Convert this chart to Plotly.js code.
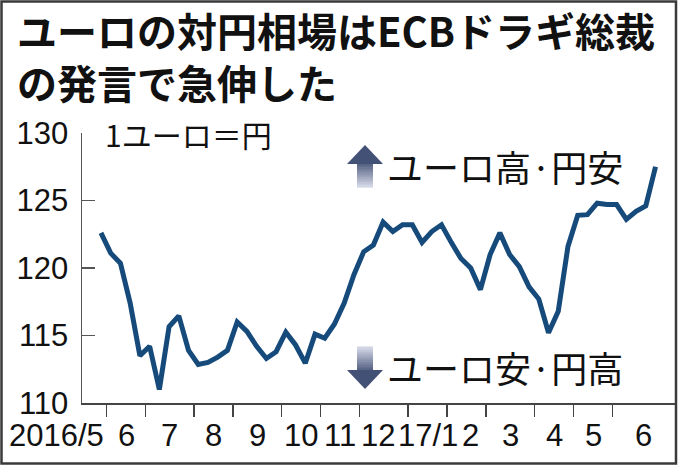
<!DOCTYPE html>
<html><head><meta charset="utf-8">
<script src="https://cdn.plot.ly/plotly-3.0.1.min.js"></script>
<style>html,body{margin:0;padding:0;background:#fff}#chart{width:680px;height:466px}</style>
</head><body><div id="chart"></div>
<script>
// Weekly (Friday) observations
const weeks = [
 '2016-05-27','2016-06-03','2016-06-10','2016-06-17','2016-06-24',
 '2016-07-01','2016-07-08','2016-07-15','2016-07-22','2016-07-29',
 '2016-08-05','2016-08-12','2016-08-19','2016-08-26',
 '2016-09-02','2016-09-09','2016-09-16','2016-09-23','2016-09-30',
 '2016-10-07','2016-10-14','2016-10-21','2016-10-28',
 '2016-11-04','2016-11-11','2016-11-18','2016-11-25',
 '2016-12-02','2016-12-09','2016-12-16','2016-12-23','2016-12-30',
 '2017-01-06','2017-01-13','2017-01-20','2017-01-27',
 '2017-02-03','2017-02-10','2017-02-17','2017-02-24',
 '2017-03-03','2017-03-10','2017-03-17','2017-03-24','2017-03-31',
 '2017-04-07','2017-04-14','2017-04-21','2017-04-28',
 '2017-05-05','2017-05-12','2017-05-19','2017-05-26',
 '2017-06-02','2017-06-09','2017-06-16','2017-06-23','2017-06-30'
];
// EUR/JPY (yen per euro)
const rates = [
 122.6, 121.1, 120.35, 117.4, 113.5,
 114.2, 111.0, 115.65, 116.45, 113.9,
 112.85, 113.0, 113.4, 113.9,
 116.0, 115.3, 114.2, 113.3, 113.8,
 115.25, 114.3, 112.95, 115.1,
 114.8, 115.85, 117.4, 119.5,
 121.2, 121.7, 123.4, 122.7, 123.2,
 123.2, 121.9, 122.7, 123.2,
 121.9, 120.7, 120.0, 118.4,
 121.0, 122.6, 121.0, 120.1, 118.6,
 117.7, 115.2, 116.8, 121.6,
 123.9, 123.95, 124.8, 124.7,
 124.7, 123.6, 124.2, 124.6, 127.5
];
const monthLabels = ['2016/5','6','7','8','9','10','11','12','17/1','2','3','4','5','6'];
const yTicks = [110, 115, 120, 125, 130];
const titleText = 'ユーロの対円相場はECBドラギ総裁<br>の発言で急伸した';
const unitLabel = '1ユーロ＝円';
const upLabel = 'ユーロ高·円安';
const downLabel = 'ユーロ安·円高';

const W = 680, H = 466, L = 82, R = 5, T = 133, B = 63;
const PW = W - L - R, PH = H - T - B;
const px = v => (v - L) / PW;
const py = v => (H - B - v) / PH;

const xIdx = weeks.map((d, i) => i);
const xRange = [-1.95, 59.0];
const bounds = [];
for (let i = 1; i < weeks.length; i++) {
  if (weeks[i].slice(0, 7) !== weeks[i - 1].slice(0, 7)) bounds.push(i - 0.42);
}
const labelPos = bounds.map((b, k) => k < bounds.length - 1 ? (b + bounds[k + 1]) / 2 : (b + xRange[1]) / 2);
// small horizontal nudges (px) so neighbouring labels do not collide
const labelNudge = {'12': -6, '2': 4};

const numFont = {family: 'Liberation Sans, Arial, sans-serif', size: 31, color: '#111'};
const jpFont = (size, weight) => ({family: 'Noto Sans CJK JP, sans-serif', size: size, weight: weight, color: '#111'});

const annotations = [];
annotations.push({xref: 'paper', yref: 'paper', x: px(15), y: py(56), xanchor: 'left', yanchor: 'middle', align: 'left',
  text: titleText, showarrow: false, font: jpFont(40, 700)});
annotations.push({xref: 'paper', yref: 'paper', x: px(103), y: py(134), xanchor: 'left', yanchor: 'middle',
  text: unitLabel, showarrow: false, font: jpFont(30, 400)});
annotations.push({xref: 'paper', yref: 'paper', x: px(385), y: py(166), xanchor: 'left', yanchor: 'middle',
  text: upLabel, showarrow: false, font: jpFont(36, 400)});
annotations.push({xref: 'paper', yref: 'paper', x: px(385), y: py(367), xanchor: 'left', yanchor: 'middle',
  text: downLabel, showarrow: false, font: jpFont(36, 400)});
// month labels
annotations.push({xref: 'x', yref: 'paper', x: bounds[0], xshift: -1, y: py(435), xanchor: 'right', yanchor: 'middle',
  text: monthLabels[0], showarrow: false, font: numFont});
labelPos.forEach((p, k) => {
  const t = monthLabels[k + 1];
  annotations.push({xref: 'x', yref: 'paper', x: p, xshift: labelNudge[t] || 0, y: py(435), xanchor: 'center', yanchor: 'middle',
    text: t, showarrow: false, font: numFont});
});

// gradient arrows
const dark = [60, 74, 112], light = [216, 219, 233];
const mix = t => 'rgb(' + dark.map((c, i) => Math.round(c + (light[i] - c) * t)).join(',') + ')';
const shapes = [];
function arrow(cx, headHalf, shaftHalf, tipY, baseY, endY) {
  const n = 14;
  for (let k = 0; k < n; k++) {
    const a = baseY + (endY - baseY) * k / n, b = baseY + (endY - baseY) * (k + 1) / n;
    shapes.push({type: 'rect', xref: 'paper', yref: 'paper', x0: px(cx - shaftHalf), x1: px(cx + shaftHalf),
      y0: py(a), y1: py(b + (endY > baseY ? 0.6 : -0.6)), line: {width: 0}, fillcolor: mix(0.15 + 0.85 * (k + 0.5) / n), layer: 'above'});
  }
  shapes.push({type: 'path', xref: 'paper', yref: 'paper', layer: 'above', line: {width: 0}, fillcolor: mix(0.05),
    path: 'M' + px(cx) + ',' + py(tipY) + ' L' + px(cx - headHalf) + ',' + py(baseY) + ' L' + px(cx + headHalf) + ',' + py(baseY) + ' Z'});
}
arrow(365, 18, 8, 145, 164, 187);
arrow(365, 18, 8, 389, 370, 347);
// frame
shapes.push({type: 'rect', xref: 'paper', yref: 'paper', x0: px(1.5), x1: px(676), y0: py(463.5), y1: py(1.5),
  line: {color: '#3a3a3a', width: 2.5}, fillcolor: 'rgba(0,0,0,0)', layer: 'above'});

const trace = {x: xIdx, y: rates, text: weeks, type: 'scatter', mode: 'lines',
  line: {color: '#154a7b', width: 5}, hovertemplate: '%{text}: %{y}円<extra></extra>'};

const layout = {
  width: W, height: H, margin: {l: L, r: R, t: T, b: B, pad: 0},
  paper_bgcolor: '#fff', plot_bgcolor: '#fff', showlegend: false,
  font: {family: 'Liberation Sans, Arial, sans-serif', color: '#111'},
  xaxis: {range: xRange, tickmode: 'array', tickvals: bounds, ticks: 'outside', ticklen: 12, tickwidth: 1.5,
    tickcolor: '#444', showticklabels: false, showline: true, linecolor: '#444', linewidth: 2,
    showgrid: false, zeroline: false, fixedrange: true},
  yaxis: {range: [110, 130], tickmode: 'array', tickvals: yTicks, ticks: 'inside', ticklen: 13, tickwidth: 1.5,
    tickcolor: '#555', showline: true, linecolor: '#555', linewidth: 1.5, showgrid: false, zeroline: false,
    tickfont: numFont, ticklabelstandoff: 6, fixedrange: true},
  annotations: annotations, shapes: shapes
};
Plotly.newPlot('chart', [trace], layout, {displayModeBar: false, staticPlot: true});
</script></body></html>
